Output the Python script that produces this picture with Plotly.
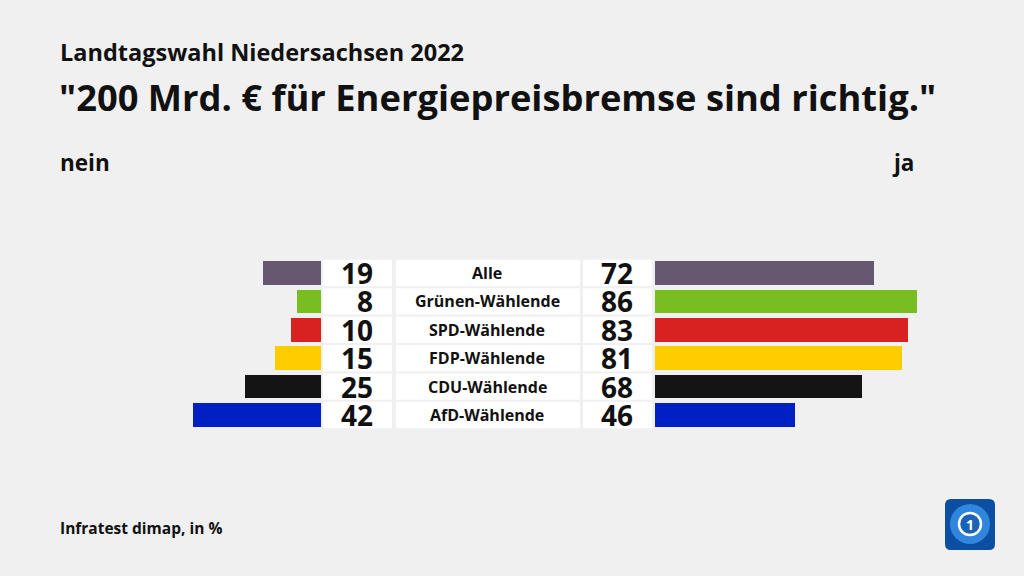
import plotly.graph_objects as go

categories = ["Alle", "Grünen-Wählende", "SPD-Wählende", "FDP-Wählende", "CDU-Wählende", "AfD-Wählende"]
nein = [19, 8, 10, 15, 25, 42]
ja = [72, 86, 83, 81, 68, 46]
colors = ["#675872", "#78be20", "#d7221f", "#ffcc00", "#141414", "#0020c4"]

title = "\"200 Mrd. € für Energiepreisbremse sind richtig.\""
subtitle = "Landtagswahl Niedersachsen 2022"
left_label = "nein"
right_label = "ja"
source = "Infratest dimap, in %"

W, H = 1024, 576
PX = 3.045          # pixels per percentage point
LEFT0, RIGHT0 = 321, 655
ROW0, PITCH = 273, 28.4
BG = "#f0f0f0"
FONT = "Open Sans"
INK = "#111111"

def px(x):
    return x / W

def py(y):
    return 1 - y / H

fig = go.Figure()
fig.add_bar(y=categories, x=nein, orientation="h", marker=dict(color=colors, line=dict(width=0)),
            width=0.83, xaxis="x", yaxis="y", hoverinfo="skip", showlegend=False)
fig.add_bar(y=categories, x=ja, orientation="h", marker=dict(color=colors, line=dict(width=0)),
            width=0.83, xaxis="x2", yaxis="y", hoverinfo="skip", showlegend=False)

shapes = []
annotations = []
for i, cat in enumerate(categories):
    for x0, x1 in [(323, 392), (396, 580), (583, 652)]:
        shapes.append(dict(type="rect", xref="paper", yref="y", x0=px(x0), x1=px(x1),
                           y0=i - 0.465, y1=i + 0.465, fillcolor="white",
                           line=dict(width=0), layer="below"))
    annotations.append(dict(xref="paper", yref="y", x=px(375), y=cat, text=str(nein[i]),
                            xanchor="right", yanchor="middle", showarrow=False,
                            font=dict(family=FONT, size=28, color=INK, weight="bold")))
    annotations.append(dict(xref="paper", yref="y", x=px(635), y=cat, text=str(ja[i]),
                            xanchor="right", yanchor="middle", showarrow=False,
                            font=dict(family=FONT, size=28, color=INK, weight="bold")))
    annotations.append(dict(xref="paper", yref="y", x=px(487), y=cat, text=cat,
                            xanchor="center", yanchor="middle", showarrow=False,
                            font=dict(family=FONT, size=16, color=INK, weight="bold")))

annotations += [
    dict(xref="paper", yref="paper", x=px(58), y=py(52), text=subtitle, xanchor="left",
         yanchor="middle", showarrow=False, font=dict(family=FONT, size=23.5, color=INK, weight="bold")),
    dict(xref="paper", yref="paper", x=px(57), y=py(97), text=title, xanchor="left",
         yanchor="middle", showarrow=False, font=dict(family=FONT, size=36.3, color=INK, weight="bold")),
    dict(xref="paper", yref="paper", x=px(58), y=py(162), text=left_label, xanchor="left",
         yanchor="middle", showarrow=False, font=dict(family=FONT, size=22.5, color=INK, weight="bold")),
    dict(xref="paper", yref="paper", x=px(916), y=py(162), text=right_label, xanchor="right",
         yanchor="middle", showarrow=False, font=dict(family=FONT, size=22.5, color=INK, weight="bold")),
    dict(xref="paper", yref="paper", x=px(58), y=py(528), text=source, xanchor="left",
         yanchor="middle", showarrow=False, font=dict(family=FONT, size=15.5, color=INK, weight="bold")),
]

# logo
lx0, ly0, lx1, ly1, r = 945, 499, 995, 550, 6
path = (f"M {px(lx0 + r)} {py(ly0)} L {px(lx1 - r)} {py(ly0)} "
        f"Q {px(lx1)} {py(ly0)} {px(lx1)} {py(ly0 + r)} L {px(lx1)} {py(ly1 - r)} "
        f"Q {px(lx1)} {py(ly1)} {px(lx1 - r)} {py(ly1)} L {px(lx0 + r)} {py(ly1)} "
        f"Q {px(lx0)} {py(ly1)} {px(lx0)} {py(ly1 - r)} L {px(lx0)} {py(ly0 + r)} "
        f"Q {px(lx0)} {py(ly0)} {px(lx0 + r)} {py(ly0)} Z")
shapes.append(dict(type="path", xref="paper", yref="paper", path=path,
                   fillcolor="#0b4ea2", line=dict(width=0)))
shapes.append(dict(type="circle", xref="paper", yref="paper", x0=px(950), x1=px(990),
                   y0=py(544), y1=py(504), fillcolor="#2f86dc", line=dict(width=0)))
shapes.append(dict(type="circle", xref="paper", yref="paper", x0=px(959), x1=px(981),
                   y0=py(535), y1=py(513), fillcolor="#1c63b8", line=dict(color="white", width=2.5)))
annotations.append(dict(xref="paper", yref="paper", x=px(970), y=py(524), text="1",
                        showarrow=False, xanchor="center", yanchor="middle",
                        font=dict(family=FONT, size=14, color="white", weight="bold")))

fig.update_layout(
    width=W, height=H, margin=dict(l=0, r=0, t=0, b=0),
    paper_bgcolor=BG, plot_bgcolor=BG, barmode="overlay", bargap=0,
    xaxis=dict(domain=[0, px(LEFT0)], range=[LEFT0 / PX, 0], visible=False, fixedrange=True),
    xaxis2=dict(domain=[px(RIGHT0), 1], range=[0, (W - RIGHT0) / PX], visible=False,
                anchor="y", fixedrange=True),
    yaxis=dict(type="category", categoryorder="array", categoryarray=categories,
               range=[(H - ROW0) / PITCH, -ROW0 / PITCH], visible=False, fixedrange=True),
    shapes=shapes, annotations=annotations, showlegend=False,
)

fig.write_html("out.html", config={"displayModeBar": False},
               post_script="document.body.style.margin='0';document.body.style.overflow='hidden';")
